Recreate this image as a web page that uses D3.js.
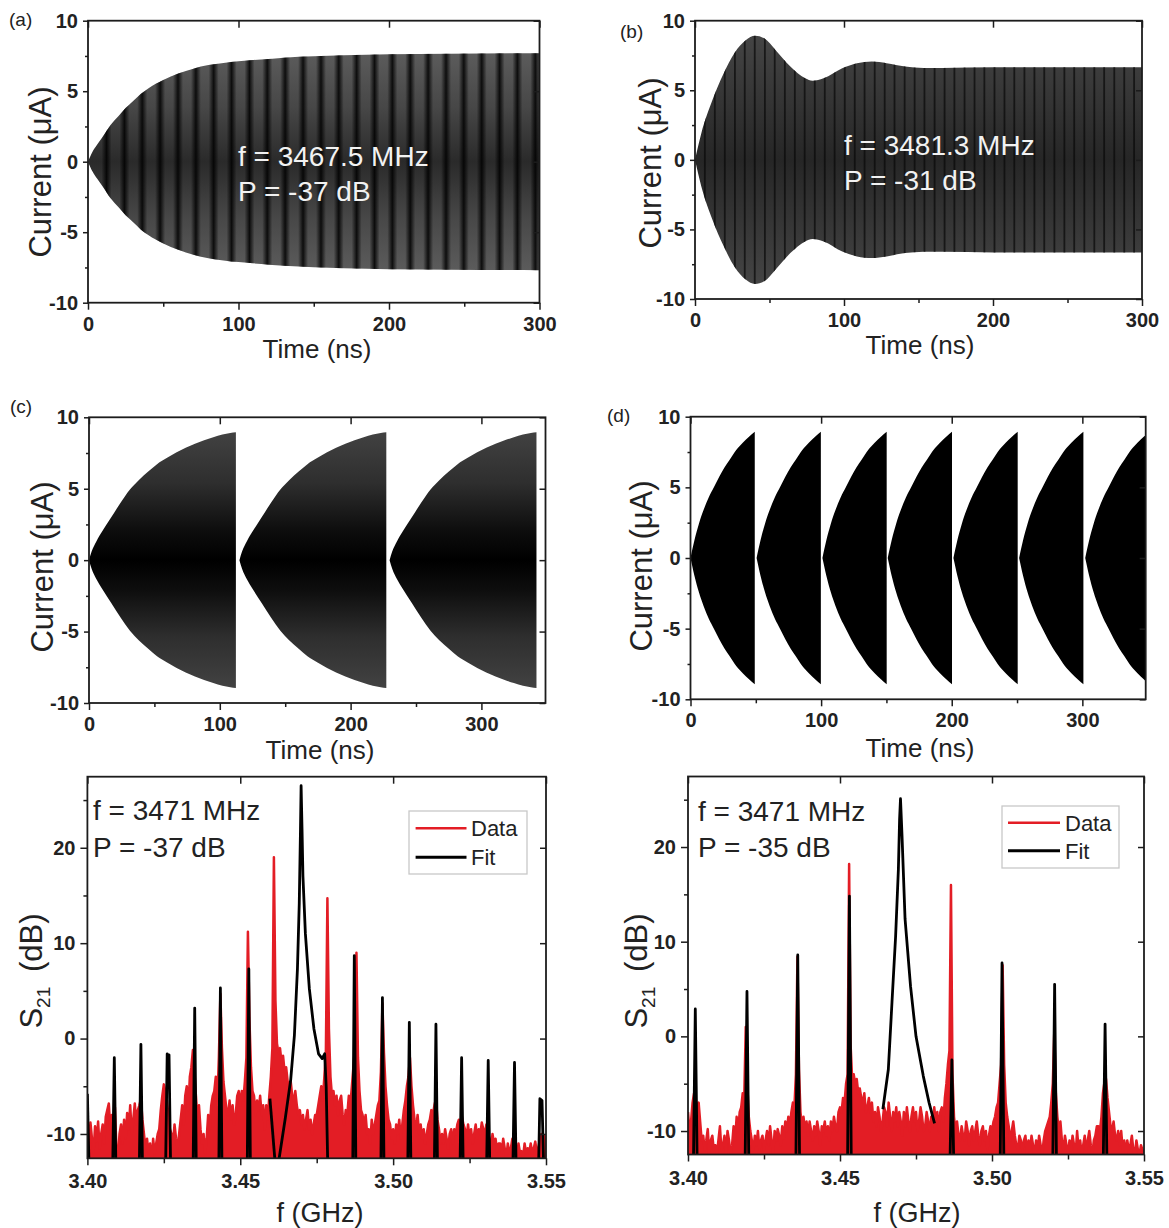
<!DOCTYPE html>
<html><head><meta charset="utf-8">
<script src="https://cdn.jsdelivr.net/npm/d3@7"></script>
<style>body{margin:0;background:#fff}svg{display:block}</style>
</head><body><svg id="c" width="1169" height="1228"></svg>
<script>
// ---------------- DATA ----------------
// (a) envelope of current, f = 3467.5 MHz
const envA_t   = [0,3,6,10,15,20,25,30,35,40,50,60,70,80,90,100,115,130,150,170,200,240,300];
const envA_amp = [0,0.7,1.2,1.8,2.6,3.2,3.8,4.3,4.8,5.2,5.8,6.25,6.6,6.85,7.0,7.12,7.25,7.38,7.48,7.55,7.62,7.66,7.7];
const stripesA_t = [12.3,24.2,36,47.9,59.8,71.7,83.5,95.4,107.3,119.1,131,142.9,154.8,166.6,178.5,190.4,202.2,214.1,226,237.9,249.7,261.6,273.5,285.3,297.2];
// (b) envelope, f = 3481.3 MHz
const envB_t   = [0,4.2,11.7,19.2,26.6,34,40.3,46.5,54,64,73.9,78.9,86.3,98.8,108.7,118.7,128.6,141,153.5,166,200,250,300];
const envB_amp = [0,1.9,4.3,6.2,7.7,8.6,8.92,8.73,7.9,6.7,5.86,5.69,5.86,6.58,6.94,7.06,6.94,6.7,6.6,6.6,6.65,6.65,6.65];
const stripesB_t = [6.6,13.3,20,26.8,33.4,40.1,46.9,53.5,60.3,67,73.6,80.4,87.1,93.7,100.5,107.2,113.8,120.6,127.3,133.9,140.7,147.4,154,160.8,167.5,174.1,180.9,187.6,194.2,201,207.7,214.3,221.1,227.8,234.4,241.2,247.9,254.5,261.3,268,274.6,281.4,288.1,294.7];
// (c) one burst envelope (relative time) and burst start times
const segC_t   = [0,2,5.7,10,17,24,31.3,38,45.5,52,59.7,67,73.9,81,88,95,102,108,112.3];
const segC_amp = [0,0.6,1.33,2.0,3.0,4.0,4.94,5.6,6.22,6.72,7.16,7.55,7.86,8.14,8.39,8.6,8.79,8.9,8.95];
const segC_start = [0,115,229.8];
// (d)
const segD_t   = [0,3,6.5,10,14,17.9,22,26,30,35,40,45,49.2];
const segD_amp = [0,1.25,2.45,3.4,4.3,5.0,5.75,6.4,6.95,7.64,8.15,8.6,8.94];
const segD_start = [0,50.6,101,151,201.3,251.6,302.2];

// spectra: red data sampled from 3.400 GHz in 0.5 MHz steps
const specStartGHz = 3.400, specStepGHz = 0.0005;
const dataLeft = [
-9.5,-11,-8.8,-10.5,-12,-9.2,-10.8,-8.7,-11.5,-10,
-9,-11,-8.2,-7.5,-6.8,-9.5,-8,-10.5,-7.2,-11.5,
-12.5,-10,-9,-11,-8.5,-10.5,-7.8,-9.5,-7,-10,
-8.5,-6.8,-9,-7.5,-7,-6.3,-8.5,-10,-11.5,-10.5,
-12,-11,-13,-10.5,-12,-11,-10,-9.5,-7.5,-6,
-4.8,-5.5,-6.5,-8,-9.5,-10,-11,-9,-10.5,-11.5,
-10,-8.5,-7,-9,-6,-5,-7.5,-4,-3,-1.2,
-3.5,-6,-8.5,-7,-9.5,-11,-10,-12,-10.5,-8,
-9.5,-7,-6,-5.5,-4,-6.5,-2,4.7,-1,-4.5,
-6,-7.5,-8,-6.5,-8.5,-7,-9,-8,-6,-5.5,
-7,-5.5,-6.5,-4.5,-2,11.2,2,-3,-5.5,-6,
-8,-6.5,-7.5,-6,-8,-7,-9.5,-7,-8.5,-6,
-4,-1,19,4,-0.5,-1.5,-1,-2.5,-1.8,-3.5,
-3,-4.5,-5,-4.5,-6,-6.5,-5.5,-7,-8,-7.5,
-9,-8,-9.5,-8.5,-7.5,-9.5,-8.5,-10,-9,-8,
-8,-7,-6,-5,-6.5,-4,-1.5,14.7,1,-4,
-6,-5.5,-7,-6,-8,-6.5,-6,-8,-9,-7.5,
-8,-6,-7,-5,-3,-1,9,-2,-5.5,-7.5,
-8,-9,-8,-10,-9.5,-11,-8.5,-10,-9,-8,
-7,-6.5,-3.5,3.7,-1.5,-5,-7,-8.5,-9,-10.5,
-9.5,-11,-9,-10,-8.5,-10.5,-9,-7.5,-6.5,-5,
-4,-2,-5,-7,-8.5,-9.5,-8,-10,-9,-10.5,
-9.5,-11,-10,-9,-8.5,-7.5,-8,-7,-6.3,-8.5,
-9.5,-11,-10,-11,-9.5,-10.5,-11.5,-10,-9.5,-11,
-9.5,-10,-9,-8.5,-9.5,-8.2,-9,-9.5,-10.5,-9,
-10.5,-9.5,-11,-10,-9,-10.5,-9.5,-10,-8.8,-9.5,
-10,-9,-9.8,-10.5,-11.5,-10,-11,-10.5,-11.8,-11,
-11,-12,-10.5,-11.5,-12.5,-11,-12,-11.5,-10.5,-12,
-11.5,-12.3,-11,-12,-11.8,-12.4,-11,-12,-11.5,-12,
-11,-12,-11.5,-10.8,-12,-11.5,-10.5,-10,-11,-10.2,-11.5];
const dataRight = [
-8,-10,-9,-7,-6,-6.5,-8.5,-7,-9,-11,
-10.5,-12,-11,-9.8,-12.5,-11,-10.5,-12,-11.5,-12.5,
-11,-9.5,-12,-11.5,-10.5,-12.5,-10,-11,-12.5,-11.5,
-9.5,-11,-8.5,-10,-8,-7.5,-6,-6.5,1,-5,
-8.5,-10,-11,-12,-10.5,-11.5,-10,-12,-11,-10.5,
-12,-11,-10,-11.5,-9.5,-11,-12.5,-10,-11,-9.8,
-10.5,-11.5,-9.5,-10.8,-9,-10,-8.5,-9.5,-8,-7,
-7.5,-4,8.4,-3.5,-8,-9.5,-8.5,-10,-9,-10.5,
-9,-10,-11,-9.5,-10.5,-9,-10,-11.5,-9.5,-10,
-9,-10.5,-9.5,-11,-9,-10,-8.5,-9.5,-10,-8,
-7.5,-8,-6.5,-7,-5,-4,18.2,-1,-4.5,-4,
-5,-4.5,-6,-5.5,-6.5,-7,-6,-8,-7.5,-6.5,
-8,-7,-9,-8,-9.5,-7.5,-8.5,-10,-9,-7.5,
-8,-9.5,-7,-8.5,-10,-8,-9,-7.5,-9.5,-8,
-9,-10.5,-8,-9.5,-7.5,-9,-10,-8.5,-7.5,-9,
-8,-10,-9,-7.5,-8.5,-10,-9.5,-8,-9,-10,
-8.5,-9.5,-7.5,-9,-8,-10,-8,-7.5,-9,-6.5,
-5,-3,-1.5,16,-4,-8.5,-10,-9,-10.5,-11,
-9.5,-10.5,-11,-9,-10,-11.5,-10,-9.5,-11,-10,
-9,-10.5,-11.5,-10,-9.5,-11,-10,-12,-10.5,-9.5,
-10,-9,-8.5,-7.5,-7,-5,-3,7.5,-3,-7,
-8.5,-9.5,-11,-10,-9,-10.5,-11.5,-12,-10.5,-11,
-12,-11,-10.5,-12.5,-11,-12,-10.5,-11.5,-12.5,-11,
-12,-10.5,-11.5,-12.5,-11,-10,-9.5,-9,-8.5,-7,
-5,0.6,-6,-8.5,-10,-9,-11,-12,-10.5,-11.5,
-12.5,-11,-12,-10.5,-11.5,-12.5,-10,-12,-11,-12.5,
-11.5,-10.5,-12,-11,-10,-11.5,-12.5,-11,-10.5,-9.5,
-9.5,-10,-8.5,-6,-4.8,-4.5,-6.5,-8,-9.5,-10,
-9,-10.5,-11,-10,-11.5,-10,-12,-11,-12.5,-11,
-12,-11.5,-10.5,-12,-12.5,-11,-12,-12.5,-11.5,-12,-12.2];
// fit curves: segments of [GHz, dB]
const fitLeft = [
 [[3.4000,-5.8],[3.4005,-13]],
 [[3.4083,-13],[3.4088,-2.0],[3.4093,-13]],
 [[3.4170,-13],[3.4175,-0.6],[3.4180,-13]],
 [[3.4256,-13],[3.4261,-1.6],[3.4264,-2.4],[3.4267,-1.7],[3.4272,-13]],
 [[3.4346,-13],[3.4351,3.2],[3.4356,-13]],
 [[3.4430,-13],[3.4435,5.3],[3.4440,-13]],
 [[3.4523,-13],[3.4528,7.3],[3.4533,-13]],
 [[3.4597,-6.3],[3.4614,-13]],
 [[3.4625,-13],[3.4647,-8.4],[3.4665,-4.3],[3.4677,0.3],[3.4687,7.3],[3.4693,14.2],[3.4697,22],[3.4699,26.5],[3.4702,22],[3.4705,17],[3.4713,11],[3.4726,5.2],[3.4741,1.0],[3.4756,-1.6],[3.4768,-2.1],[3.4776,-1.6],[3.4781,-5],[3.4786,-13]],
 [[3.4868,-13],[3.4873,8.7],[3.4878,-13]],
 [[3.4960,-13],[3.4965,4.3],[3.4970,-13]],
 [[3.5048,-13],[3.5053,1.7],[3.5058,-13]],
 [[3.5135,-13],[3.5140,1.5],[3.5145,-13]],
 [[3.5219,-13],[3.5224,-2.0],[3.5229,-13]],
 [[3.5306,-13],[3.5311,-2.3],[3.5316,-13]],
 [[3.5392,-13],[3.5397,-2.5],[3.5402,-13]],
 [[3.5476,-13],[3.5480,-6.3],[3.5487,-6.5],[3.5492,-13]]
];
const fitRight = [
 [[3.4018,-13],[3.4024,2.9],[3.4030,-13]],
 [[3.4188,-13],[3.4194,4.75],[3.4200,-13]],
 [[3.4355,-13],[3.4361,8.6],[3.4367,-13]],
 [[3.4525,-13],[3.4531,14.8],[3.4537,-13]],
 [[3.4641,-7.7],[3.4659,-3.5],[3.4671,3.6],[3.4683,10.6],[3.4692,17.6],[3.4696,22.9],[3.4699,25.1],[3.4704,21.2],[3.4714,12.4],[3.4732,5.3],[3.4750,0.0],[3.4774,-4.2],[3.4793,-7.0],[3.4811,-9.2]],
 [[3.4862,-13],[3.4868,-2.5],[3.4874,-13]],
 [[3.5027,-13],[3.5033,7.75],[3.5039,-13]],
 [[3.5200,-13],[3.5206,5.5],[3.5212,-13]],
 [[3.5366,-13],[3.5372,1.3],[3.5378,-13]]
];
const timeTicks = [0,100,200,300], timeMinor = [50,150,250];
const curTicks = [-10,-5,0,5,10], curMinor = [-7.5,-2.5,2.5,7.5];
const fTicks = [3.40,3.45,3.50,3.55], fMinor = [3.425,3.475,3.525];
const sTicks = [-10,0,10,20], sMinor = [-5,5,15,25];

// ---------------- DRAW ----------------
const FONT = '"Liberation Sans", Arial, Helvetica, sans-serif';
const svg = d3.select('#c');
const defs = svg.append('defs');
const AX = '#1c1c1c';
const RED = '#e31d25';
let clipN = 0;

function frame(g, x, y, o) {
  const [x0,x1] = x.range(), [yb,yt] = y.range();
  g.append('g').attr('transform',`translate(${x0},0)`).call(d3.axisLeft(y).tickValues(o.yMinor).tickSize(o.minLen).tickFormat(''));
  g.append('g').attr('transform',`translate(0,${yb})`).call(d3.axisBottom(x).tickValues(o.xMinor).tickSize(o.minLen+1).tickFormat(''));
  g.append('g').attr('class','tl').attr('transform',`translate(${x0},0)`).call(d3.axisLeft(y).tickValues(o.yMajor).tickSize(o.yLen).tickPadding(o.yPad).tickFormat(o.yFmt));
  g.append('g').attr('class','tl').attr('transform',`translate(0,${yb})`).call(d3.axisBottom(x).tickValues(o.xMajor).tickSize(o.xLen).tickPadding(o.xPad).tickFormat(o.xFmt));
  g.append('g').attr('transform',`translate(0,${yt})`).call(d3.axisTop(x).tickValues(o.xMajor).tickSize(-7).tickFormat(''));
  g.append('g').attr('transform',`translate(${x1},0)`).call(d3.axisRight(y).tickValues(o.yMajor).tickSize(-6).tickFormat(''));
  g.selectAll('.domain').remove();
  g.selectAll('.tick line').attr('stroke',AX).attr('stroke-width',1.5);
  g.selectAll('.tl text').attr('font-family',FONT).attr('font-weight','bold').attr('font-size',20).attr('fill','#222');
  g.append('rect').attr('x',x0).attr('y',yt).attr('width',x1-x0).attr('height',yb-yt)
    .attr('fill','none').attr('stroke',AX).attr('stroke-width',1.8);
}
function clipRect(x, y) {
  const id = 'clp' + (clipN++);
  const [x0,x1] = x.range(), [yb,yt] = y.range();
  defs.append('clipPath').attr('id',id).append('rect').attr('x',x0).attr('y',yt).attr('width',x1-x0).attr('height',yb-yt);
  return `url(#${id})`;
}
function text(t, x, y, size, opt={}) {
  return svg.append('text').attr('x',x).attr('y',y).attr('font-family',FONT).attr('font-size',size)
    .attr('fill',opt.fill||'#222').attr('font-weight',opt.bold?'bold':'normal').attr('text-anchor',opt.anchor||'start').text(t);
}
function yTitle(cx, cy, sub) {
  const t = svg.append('text').attr('transform',`translate(${cx},${cy}) rotate(-90)`).attr('text-anchor','middle')
    .attr('dy','0.35em').attr('font-family',FONT).attr('font-size',31).attr('fill','#222');
  if (sub) {
    t.append('tspan').text('S');
    t.append('tspan').attr('font-size',19).attr('dy',8).text('21');
    t.append('tspan').attr('dy',-8).text('\u2009 (dB)');
  } else t.text('Current (\u03bcA)');
}
const timeOpts = {xMajor:timeTicks,xMinor:timeMinor,yMajor:curTicks,yMinor:curMinor,minLen:3,xLen:7,xPad:7,yLen:5,yPad:5,
  xFmt:d=>String(d), yFmt:d=>String(d)};
const specOpts = {xMajor:fTicks,xMinor:fMinor,yMajor:sTicks,yMinor:sMinor,minLen:4,xLen:7,xPad:9,yLen:7,yPad:5,
  xFmt:d3.format('.2f'), yFmt:d=>String(d)};

function grad(id, stops, vertical, y1, y2) {
  const g = defs.append('linearGradient').attr('id',id);
  if (vertical) g.attr('gradientUnits','userSpaceOnUse').attr('x1',0).attr('x2',0).attr('y1',y1).attr('y2',y2);
  stops.forEach(s => g.append('stop').attr('offset',s[0]).attr('stop-color',s[1]).attr('stop-opacity',s[2]===undefined?1:s[2]));
  return `url(#${id})`;
}

// ---- time-domain panel
function timePanel(cfg) {
  const x = d3.scaleLinear().domain(cfg.xd).range(cfg.xr);
  const y = d3.scaleLinear().domain([-10,10]).range(cfg.yr);
  const g = svg.append('g');
  const area = d3.area().curve(d3.curveMonotoneX).x(d=>x(d.t)).y0(d=>y(-d.a)).y1(d=>y(d.a));
  const cid = 'env' + (clipN++);
  const cp = defs.append('clipPath').attr('id',cid);
  cfg.shapes.forEach(s => cp.append('path').attr('d',area(s)));
  const plot = g.append('g').attr('clip-path',clipRect(x,y));
  const inner = plot.append('g').attr('clip-path',`url(#${cid})`);
  inner.append('rect').attr('x',x.range()[0]).attr('y',y(10)).attr('width',x.range()[1]-x.range()[0]).attr('height',y(-10)-y(10)).attr('fill',cfg.fill);
  if (cfg.stripes) {
    inner.selectAll('rect.st').data(cfg.stripes).join('rect').attr('class','st')
      .attr('x',d=>x(d)-cfg.sw/2).attr('width',cfg.sw).attr('y',y(10)).attr('height',y(-10)-y(10))
      .attr('fill',cfg.sfill).attr('opacity',cfg.sop);
  }
  frame(g, x, y, timeOpts);
  return {x,y};
}

// (a)
const gA = grad('gA',[[0,'#5c5c5c'],[0.25,'#474747'],[0.5,'#2a2a2a'],[0.75,'#474747'],[1,'#5c5c5c']],true,52,272);
const sA = grad('sA',[[0,'#000',0],[0.5,'#000',1],[1,'#000',0]],false);
timePanel({xd:[0,300],xr:[88,539.5],yr:[302.7,20.7],fill:gA,
  shapes:[envA_t.map((t,i)=>({t,a:envA_amp[i]}))], stripes:stripesA_t, sw:10, sfill:sA, sop:0.85});
// (b)
const gB = grad('gB',[[0,'#464646'],[0.5,'#262626'],[1,'#464646']],true,30,290);
timePanel({xd:[0,300],xr:[695,1142],yr:[299,20.7],fill:gB,
  shapes:[envB_t.map((t,i)=>({t,a:envB_amp[i]}))], stripes:stripesB_t, sw:1.8, sfill:'#080808', sop:0.7});
// (c)
const gC = grad('gC',[[0,'#424242'],[0.2,'#2e2e2e'],[0.38,'#0e0e0e'],[0.5,'#000'],[0.62,'#0e0e0e'],[0.8,'#2e2e2e'],[1,'#424242']],true,432,688);
timePanel({xd:[0,349],xr:[89,545.5],yr:[703,417.3],fill:gC,
  shapes:segC_start.map(s=>segC_t.map((t,i)=>({t:s+t,a:segC_amp[i]})))});
// (d)
timePanel({xd:[0,348.5],xr:[690.5,1145.7],yr:[699.3,416.7],fill:'#000',
  shapes:segD_start.map(s=>segD_t.map((t,i)=>({t:s+t,a:segD_amp[i]})))});

// ---- spectra
function specPanel(cfg) {
  const x = d3.scaleLinear().domain([3.40,3.55]).range(cfg.xr);
  const y = d3.scaleLinear().domain(cfg.yd).range(cfg.yr);
  const g = svg.append('g');
  const plot = g.append('g').attr('clip-path',clipRect(x,y));
  const pts = cfg.data.map((v,i)=>({f:specStartGHz+i*specStepGHz,v}));
  plot.append('path').attr('d',d3.area().x(d=>x(d.f)).y0(y(-14)).y1(d=>y(d.v))(pts)).attr('fill',RED);
  plot.append('path').attr('d',d3.line().x(d=>x(d.f)).y(d=>y(d.v))(pts)).attr('fill','none').attr('stroke',RED).attr('stroke-width',2.5).attr('stroke-linejoin','round');
  const line = d3.line().x(d=>x(d[0])).y(d=>y(d[1]));
  plot.selectAll('path.fit').data(cfg.fit).join('path').attr('class','fit').attr('d',line)
    .attr('fill','none').attr('stroke','#000').attr('stroke-width',2.8).attr('stroke-linejoin','round');
  frame(g, x, y, specOpts);
  const L = cfg.leg;
  g.append('rect').attr('x',L.x).attr('y',L.y).attr('width',L.w).attr('height',L.h).attr('fill','#fff').attr('stroke','#c8c8c8').attr('stroke-width',1.3);
  g.append('line').attr('x1',L.lx1).attr('x2',L.lx2).attr('y1',L.r1).attr('y2',L.r1).attr('stroke',RED).attr('stroke-width',2.5);
  g.append('line').attr('x1',L.lx1).attr('x2',L.lx2).attr('y1',L.r2).attr('y2',L.r2).attr('stroke','#000').attr('stroke-width',3);
  text('Data',L.tx,L.r1+8,22);
  text('Fit',L.tx,L.r2+8,22);
}
specPanel({xr:[87.4,546],yd:[-12.55,27.45],yr:[1158.3,776.7],data:dataLeft,fit:fitLeft,
  leg:{x:409,y:811,w:118,h:63,lx1:415.6,lx2:466.5,r1:828.3,r2:857.3,tx:471}});
specPanel({xr:[688,1144],yd:[-12.48,27.45],yr:[1154.5,776.5],data:dataRight,fit:fitRight,
  leg:{x:1002,y:806,w:117,h:62,lx1:1008,lx2:1060,r1:822.7,r2:850.7,tx:1065}});

// ---- texts
text('f = 3467.5 MHz',238,166,28,{fill:'#f2f2f2'});
text('P = -37 dB',238,201,28,{fill:'#f2f2f2'});
text('f = 3481.3 MHz',844,155,28,{fill:'#f2f2f2'});
text('P = -31 dB',844,190,28,{fill:'#f2f2f2'});
text('f = 3471 MHz',93,820,28);
text('P = -37 dB',93,857,28);
text('f = 3471 MHz',698,821,28);
text('P = -35 dB',698,857,28);
text('(a)',9,26,19); text('(b)',620,37.5,19); text('(c)',10,413,19); text('(d)',607,422,19);
text('Time (ns)',317,358,26,{anchor:'middle'});
text('Time (ns)',920,354,26,{anchor:'middle'});
text('Time (ns)',320,759,26,{anchor:'middle'});
text('Time (ns)',920,757,26,{anchor:'middle'});
text('f (GHz)',320,1222,27,{anchor:'middle'});
text('f (GHz)',917,1222,27,{anchor:'middle'});
yTitle(40,172); yTitle(650,163); yTitle(42,567); yTitle(641,566);
yTitle(31,971,true); yTitle(636,971,true);
</script></body></html>
